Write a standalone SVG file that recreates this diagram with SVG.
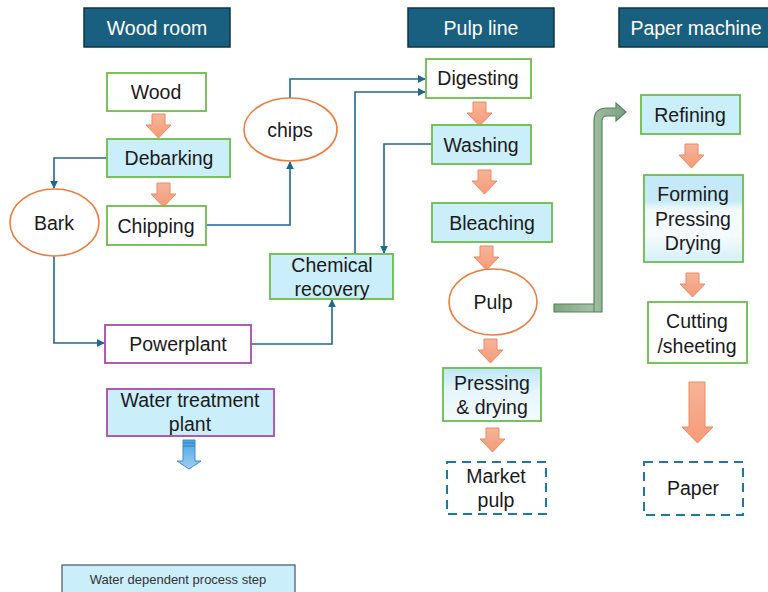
<svg xmlns="http://www.w3.org/2000/svg" width="768" height="592" viewBox="0 0 768 592">
<defs>
<style>
text{font-family:"Liberation Sans","Open Sans",Arial,sans-serif;fill:#1a1a1a;font-size:19.5px;text-anchor:middle;dominant-baseline:central}
.hdr rect{fill:#185f80;stroke:#0c3447;stroke-width:1.5}
.hdr text{fill:#fff}
.g{stroke:#6cbd4a;stroke-width:1.8}
.w{fill:#fff}
.b{fill:#cbeefb}
.p{stroke:#a94aaa;stroke-width:1.8}
.ell{fill:#fff;stroke:#ee7c3c;stroke-width:1.6}
.dash{fill:#fff;stroke:#1a7ba6;stroke-width:2;stroke-dasharray:9,6}
.con{fill:none;stroke:#1f6a8c;stroke-width:1.6}
.oa{fill:url(#og);stroke:#ec8a64;stroke-width:1}
</style>
<linearGradient id="og" x1="0" y1="0" x2="0" y2="1"><stop offset="0" stop-color="#f7b498"/><stop offset="1" stop-color="#f49b78"/></linearGradient>
<linearGradient id="bg1" x1="0" y1="0" x2="0" y2="1"><stop offset="0" stop-color="#bfe6f7"/><stop offset="0.45" stop-color="#e6f6fc"/><stop offset="1" stop-color="#f3fbfe"/></linearGradient>
<linearGradient id="bg2" x1="0" y1="0" x2="0" y2="1"><stop offset="0" stop-color="#c3e8f8"/><stop offset="0.3" stop-color="#c8eaf8"/><stop offset="0.4" stop-color="#f2fafd"/><stop offset="0.7" stop-color="#f5fbfe"/><stop offset="1" stop-color="#d5effa"/></linearGradient>
<linearGradient id="gg" x1="0" y1="0" x2="1" y2="0"><stop offset="0" stop-color="#7fa483"/><stop offset="0.5" stop-color="#a5bea7"/><stop offset="1" stop-color="#7c9f7f"/></linearGradient>
<linearGradient id="blg" x1="0" y1="0" x2="0" y2="1"><stop offset="0" stop-color="#4aa3e0"/><stop offset="1" stop-color="#9fd0f2"/></linearGradient>
<marker id="ah" viewBox="0 0 10 10" refX="9" refY="5" markerWidth="5" markerHeight="5" orient="auto"><path d="M0,0 L10,5 L0,10 Z" fill="#1f6a8c"/></marker>
<path id="arr" d="M6,0 H19 V11 H25 L12.5,24 L0,11 H6 Z"/>
</defs>

<g id="hdr-wood" class="hdr"><rect x="84" y="8" width="146" height="39"/><text x="157" y="28">Wood room</text></g>
<g id="hdr-pulp" class="hdr"><rect x="408" y="8" width="146" height="39"/><text x="481" y="28">Pulp line</text></g>
<g id="hdr-paper" class="hdr"><rect x="619" y="8" width="150" height="39"/><text x="696" y="28">Paper machine</text></g>

<g id="connectors">
<path class="con" d="M107,158 H54 V188" marker-end="url(#ah)"/>
<path class="con" d="M54,256 V343 H104" marker-end="url(#ah)"/>
<path class="con" d="M206,225 H290 V162" marker-end="url(#ah)"/>
<path class="con" d="M290,98 V79 H425" marker-end="url(#ah)"/>
<path class="con" d="M355,254 V92 H425" marker-end="url(#ah)"/>
<path class="con" d="M432,144 H384 V253" marker-end="url(#ah)"/>
<path class="con" d="M251,344 H332 V300" marker-end="url(#ah)"/>
</g>

<g id="block-arrows">
<use href="#arr" class="oa" x="146" y="114"/>
<use href="#arr" class="oa" x="151" y="183"/>
<use href="#arr" class="oa" x="467" y="102"/>
<use href="#arr" class="oa" x="472" y="170"/>
<use href="#arr" class="oa" x="474" y="246"/>
<use href="#arr" class="oa" x="478" y="339"/>
<use href="#arr" class="oa" x="480" y="428"/>
<use href="#arr" class="oa" x="679" y="144"/>
<use href="#arr" class="oa" x="680" y="273"/>
<path class="oa" d="M689,382 H705 V427 H713 L697.5,443 L682,427 H689 Z"/>
<path d="M183,440 H195 V461 H201 L189,469 L177,461 H183 Z" fill="url(#blg)" stroke="#3d8fcc" stroke-width="1"/>
<path d="M183,443 H195 M183,446 H195" stroke="#2f7fbf" stroke-width="1"/>
<path d="M554,304 H594 V121 Q594,108 607,108 H616 V103 L626,112 L616,121 V116 H607 Q602,116 602,121 V312 H554 Z" fill="url(#gg)" stroke="#4f8a52" stroke-width="1.2"/>
<path d="M594,304 V312" stroke="#4f8a52" stroke-width="1"/>
</g>

<g id="n-wood"><rect class="g w" x="107" y="73" width="99" height="38"/><text x="156" y="92">Wood</text></g>
<g id="n-debarking"><rect class="g b" x="107" y="139" width="123" height="38"/><text x="169" y="158">Debarking</text></g>
<g id="n-chipping"><rect class="g w" x="107" y="206" width="99" height="39"/><text x="156" y="226">Chipping</text></g>
<g id="n-chips"><ellipse class="ell" cx="290.5" cy="129.5" rx="46.5" ry="31.5"/><text x="290" y="130">chips</text></g>
<g id="n-bark"><ellipse class="ell" cx="54.5" cy="222.5" rx="44.5" ry="33.5"/><text x="54" y="223">Bark</text></g>
<g id="n-chemrec"><rect class="g b" x="270" y="254" width="123" height="45"/><text x="332" y="265">Chemical</text><text x="332" y="289">recovery</text></g>
<g id="n-powerplant"><rect class="p w" x="105" y="325" width="146" height="38"/><text x="178" y="344">Powerplant</text></g>
<g id="n-water"><rect class="p b" x="107" y="389" width="167" height="47"/><text x="190" y="400">Water treatment</text><text x="190" y="424">plant</text></g>

<g id="n-digesting"><rect class="g w" x="426" y="59" width="105" height="39"/><text x="478" y="78">Digesting</text></g>
<g id="n-washing"><rect class="g b" x="432" y="125" width="99" height="39"/><text x="481" y="145">Washing</text></g>
<g id="n-bleaching"><rect class="g b" x="432" y="203" width="120" height="39"/><text x="492" y="223">Bleaching</text></g>
<g id="n-pulp"><ellipse class="ell" cx="493" cy="302" rx="44" ry="33"/><text x="493" y="302">Pulp</text></g>
<g id="n-pressing"><rect class="g" fill="url(#bg1)" x="443" y="368" width="98" height="53"/><text x="492" y="383">Pressing</text><text x="492" y="407">&amp; drying</text></g>
<g id="n-market"><rect class="dash" x="447" y="462" width="99" height="52"/><text x="496" y="476">Market</text><text x="496" y="500">pulp</text></g>

<g id="n-refining"><rect class="g b" x="641" y="95" width="99" height="39"/><text x="690" y="115">Refining</text></g>
<g id="n-forming"><rect class="g" fill="url(#bg2)" x="644" y="175" width="99" height="87"/><text x="693" y="194">Forming</text><text x="693" y="219">Pressing</text><text x="693" y="243">Drying</text></g>
<g id="n-cutting"><rect class="g w" x="648" y="302" width="99" height="61"/><text x="697" y="321">Cutting</text><text x="697" y="346">/sheeting</text></g>
<g id="n-paper"><rect class="dash" x="644" y="462" width="99" height="53"/><text x="693" y="488">Paper</text></g>

<g id="legend"><rect x="62" y="565" width="233" height="32" fill="#cbeefb" stroke="#44546a" stroke-width="1.2"/><text x="178" y="579" style="font-size:13px;fill:#333">Water dependent process step</text></g>
</svg>
